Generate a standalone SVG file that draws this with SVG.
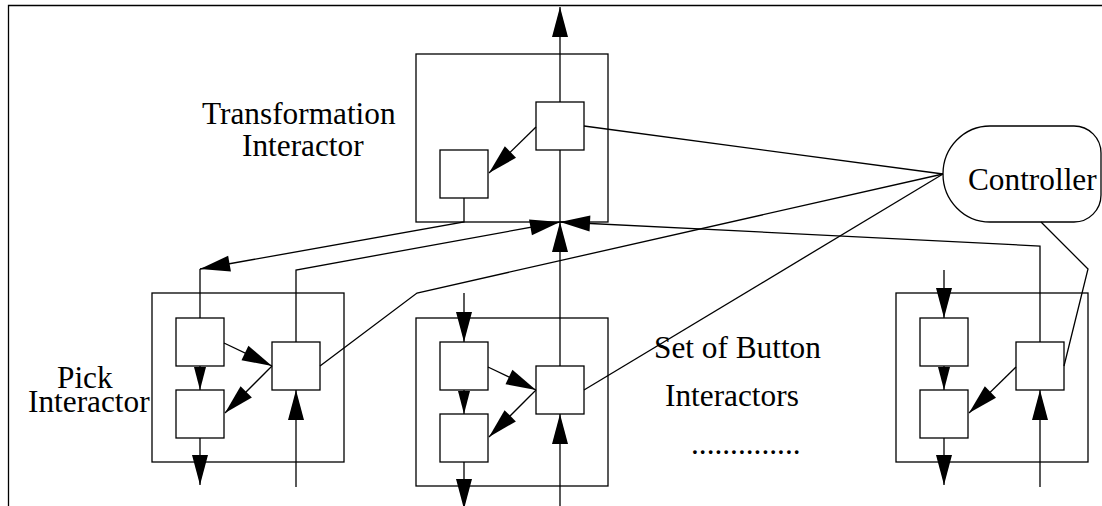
<svg xmlns="http://www.w3.org/2000/svg" width="1102" height="506" viewBox="0 0 1102 506">
<style>
.b{fill:none;stroke:#000;stroke-width:1.3}
.s{fill:#fff;stroke:#000;stroke-width:1.3}
.c{fill:none;stroke:#000;stroke-width:1.3}
.a{marker-end:url(#big)}
.m{marker-end:url(#small)}
text{font-family:"Liberation Serif","Times New Roman",serif;font-size:31.3px;fill:#000}
</style>
<defs>
<marker id="big" markerUnits="userSpaceOnUse" markerWidth="30" markerHeight="16" refX="30" refY="8" orient="auto" overflow="visible">
<path d="M0,0 L30,8 L0,16 Z" fill="#000"/>
</marker>
<marker id="small" markerUnits="userSpaceOnUse" markerWidth="23" markerHeight="12" refX="23" refY="6" orient="auto" overflow="visible">
<path d="M0,0 L23,6 L0,12 Z" fill="#000"/>
</marker>
</defs>
<rect width="1102" height="506" fill="#fff"/>
<g id="frame">
<path class="c" d="M8.5,506 L8.5,5.5 L1102,5.5"/>
</g>
<g id="transformation-interactor">
<rect class="b" x="416" y="54" width="192" height="168"/>
<rect class="s" x="536" y="102" width="48" height="48"/>
<rect class="s" x="440" y="150" width="48" height="48"/>
<text x="202" y="124">Transformation</text>
<text x="242" y="156">Interactor</text>
</g>
<g id="controller">
<path class="s" d="M990,126 L1074,126 A27,27 0 0 1 1101,153 L1101,195 A27,27 0 0 1 1074,222 L990,222 A47,48 0 0 1 990,126 Z"/>
<text x="968" y="190">Controller</text>
</g>
<g id="pick-interactor">
<rect class="b" x="152" y="293" width="192" height="169"/>
<rect class="s" x="176" y="318" width="48" height="48"/>
<rect class="s" x="176" y="390" width="48" height="48"/>
<rect class="s" x="272" y="342" width="48" height="48"/>
<text x="57" y="388">Pick</text>
<text x="28" y="412">Interactor</text>
</g>
<g id="button-interactor-1">
<rect class="b" x="416" y="318" width="192" height="168"/>
<rect class="s" x="440" y="342" width="48" height="48"/>
<rect class="s" x="440" y="414" width="48" height="48"/>
<rect class="s" x="536" y="366" width="48" height="48"/>
</g>
<g id="button-interactor-n">
<rect class="b" x="896" y="293" width="192" height="169"/>
<rect class="s" x="920" y="318" width="48" height="48"/>
<rect class="s" x="920" y="390" width="48" height="48"/>
<rect class="s" x="1016" y="342" width="48" height="48"/>
</g>
<g id="labels">
<text x="654" y="358">Set of Button</text>
<text x="665" y="406">Interactors</text>
<text x="691" y="454">..............</text>
</g>
<g id="connectors">
<path class="c a" d="M560,102 L560,7"/>
<path class="c a" d="M536,127 L489,173"/>
<path class="c a" d="M464,198 L464,222 L200,269"/>
<path class="c" d="M200,269 L200,318"/>
<path class="c a" d="M296,342 L296,270 L560,222"/>
<path class="c" d="M560,222 L560,150"/>
<path class="c a" d="M560,366 L560,222"/>
<path class="c a" d="M1040,342 L1040,246 L560,222"/>
<path class="c" d="M584,126 L943,174"/>
<path class="c" d="M320,366 L417,293 L943,174"/>
<path class="c" d="M584,390 L943,174"/>
<path class="c" d="M1041,222 L1088,269 L1064,366"/>
<path class="c m" d="M200,366 L200,390"/>
<path class="c a" d="M224,343 L272,366"/>
<path class="c a" d="M272,366 L225,413"/>
<path class="c a" d="M200,438 L200,485"/>
<path class="c a" d="M296,487 L296,390"/>
<path class="c a" d="M464,293 L464,342"/>
<path class="c m" d="M464,390 L464,414"/>
<path class="c a" d="M488,367 L536,390"/>
<path class="c a" d="M536,390 L489,437"/>
<path class="c a" d="M464,462 L464,509"/>
<path class="c a" d="M560,506 L560,414"/>
<path class="c a" d="M944,270 L944,318"/>
<path class="c m" d="M944,366 L944,390"/>
<path class="c a" d="M1016,367 L969,413"/>
<path class="c a" d="M944,438 L944,485"/>
<path class="c a" d="M1040,487 L1040,390"/>
</g>
</svg>
